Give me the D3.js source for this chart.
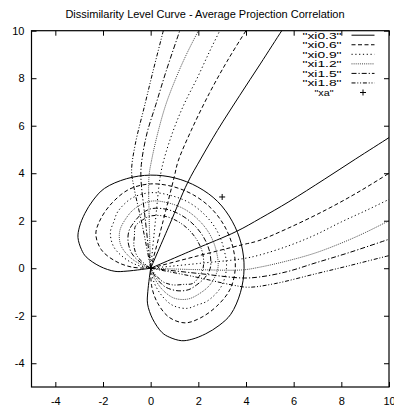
<!DOCTYPE html>
<html lang="en">
<head>
<meta charset="utf-8">
<title>Dissimilarity Level Curve</title>
<script src="https://cdn.jsdelivr.net/npm/d3@7"></script>
<style>
  body { margin: 0; background: #fff; }
  text { font-family: "Liberation Sans", Arial, sans-serif; fill: #000; }
</style>
</head>
<body>
<script>
// tick labels
var xTicks = [-4, -2, 0, 2, 4, 6, 8, 10];
var yTicks = [-4, -2, 0, 2, 4, 6, 8, 10];

var seriesNames = ['"xi0.3"', '"xi0.6"', '"xi0.9"', '"xi1.2"', '"xi1.5"', '"xi1.8"'];

// closed level loops through the origin
var loop03 = [[0,0],[-0.99,-0.12],[-1.5,-0.13],[-2.13,0.08],[-2.71,0.48],[-2.9,0.78],[-3.05,1.29],[-2.99,1.73],[-2.76,2.31],[-2.41,2.87],[-1.94,3.36],[-1.01,3.77],[0,3.92],[1.02,3.8],[1.98,3.42],[2.81,2.81],[3.42,1.98],[3.8,1.02],[3.92,0],[3.77,-1.01],[3.36,-1.94],[2.87,-2.41],[2.31,-2.76],[1.73,-2.99],[1.29,-3.05],[0.78,-2.9],[0.48,-2.71],[0.08,-2.13],[-0.13,-1.5],[-0.12,-0.99],[0,0]];
var loop06 = [[0,0],[-0.8,0.05],[-1.48,0.3],[-2.07,0.78],[-2.3,1.44],[-2.09,2.09],[-1.6,2.77],[-0.89,3.33],[0,3.55],[0.92,3.44],[1.79,3.09],[2.53,2.53],[3.09,1.79],[3.44,0.92],[3.55,0],[3.33,-0.89],[2.77,-1.6],[2.09,-2.09],[1.44,-2.3],[0.78,-2.07],[0.3,-1.48],[0.05,-0.8],[0,0]];
var loop09 = [[0,0],[-0.59,0.14],[-1.13,0.45],[-1.56,0.92],[-1.69,1.52],[-1.54,1.97],[-1.38,2.38],[-0.79,2.95],[0,3.18],[0.82,3.07],[1.6,2.77],[2.26,2.26],[2.77,1.6],[3.07,0.82],[3.18,0],[2.95,-0.79],[2.38,-1.38],[1.97,-1.54],[1.52,-1.69],[0.92,-1.56],[0.45,-1.13],[0.14,-0.59],[0,0]];
var loop12 = [[0,0],[-0.47,0.19],[-0.93,0.52],[-1.26,0.99],[-1.3,1.55],[-1.08,2.03],[-0.67,2.51],[0,2.82],[0.74,2.75],[1.43,2.48],[2.02,2.02],[2.48,1.43],[2.75,0.74],[2.82,0],[2.51,-0.67],[2.03,-1.08],[1.55,-1.3],[0.99,-1.26],[0.52,-0.93],[0.19,-0.47],[0,0]];
var loop15 = [[0,0],[-0.43,0.25],[-0.79,0.62],[-0.95,1.15],[-0.9,1.6],[-0.7,1.93],[-0.4,2.27],[0,2.5],[0.67,2.48],[1.29,2.23],[1.82,1.82],[2.23,1.29],[2.48,0.67],[2.5,0],[2.27,-0.4],[1.93,-0.7],[1.6,-0.9],[1.15,-0.95],[0.62,-0.79],[0.25,-0.43],[0,0]];
var loop18 = [[0,0],[-0.28,0.21],[-0.56,0.5],[-0.7,0.92],[-0.68,1.39],[-0.64,1.77],[-0.36,2.02],[0,2.2],[0.59,2.19],[1.14,1.97],[1.61,1.61],[1.97,1.14],[2.19,0.59],[2.2,0],[2.02,-0.36],[1.77,-0.64],[1.39,-0.68],[0.92,-0.7],[0.5,-0.56],[0.21,-0.28],[0,0]];

// open branches leaving the origin, upward
var up03 = [[0,0],[0.8,1.85],[1.55,3.6],[2.1,4.6],[2.8,5.8],[3.74,7.28],[4.6,8.6],[5.5,10],[5.7,10.3]];
var up06 = [[0,0],[0.5,1.9],[0.99,3.85],[1.15,4.5],[1.7,5.8],[2.46,7.36],[3.2,8.7],[4.0,10],[4.2,10.3]];
var up09 = [[0,0],[0.2,2],[0.4,3.85],[0.55,4.55],[0.95,5.8],[1.4,6.9],[1.95,8.0],[2.46,9.1],[2.9,10],[3.05,10.3]];
var up12 = [[0,0],[-0.06,2],[-0.07,3.85],[0.04,4.55],[0.3,5.7],[0.64,6.9],[1.1,8.1],[1.5,9.0],[2.0,10],[2.15,10.3]];
var up15 = [[0,0],[-0.22,2],[-0.41,3.85],[-0.37,4.55],[-0.15,5.7],[0.22,6.9],[0.65,8.3],[1.22,10],[1.32,10.3]];
var up18 = [[0,0],[-0.35,1.8],[-0.7,3.4],[-0.8,4.1],[-0.65,5.2],[-0.24,6.9],[0.1,8.3],[0.53,10],[0.6,10.3]];

// open branches leaving the origin, to the right
var right03 = [[0,0],[1.85,0.8],[3.6,1.55],[4.6,2.1],[5.8,2.8],[7.28,3.74],[8.6,4.6],[10,5.5],[10.3,5.7]];
var right06 = [[0,0],[1.9,0.5],[3.85,0.99],[4.5,1.15],[5.8,1.7],[7.36,2.46],[8.7,3.2],[10,4.0],[10.3,4.2]];
var right09 = [[0,0],[2,0.2],[3.85,0.4],[4.55,0.55],[5.8,0.95],[6.9,1.4],[8.0,1.95],[9.1,2.46],[10,2.9],[10.3,3.05]];
var right12 = [[0,0],[2,-0.06],[3.85,-0.07],[4.55,0.04],[5.7,0.3],[6.9,0.64],[8.1,1.1],[9.0,1.5],[10,2.0],[10.3,2.15]];
var right15 = [[0,0],[2,-0.22],[3.85,-0.41],[4.55,-0.37],[5.7,-0.15],[6.9,0.22],[8.3,0.65],[10,1.22],[10.3,1.32]];
var right18 = [[0,0],[1.8,-0.35],[3.4,-0.7],[4.1,-0.8],[5.2,-0.65],[6.9,-0.24],[8.3,0.1],[10,0.53],[10.3,0.6]];

var xaPoint = [[3, 3]];

var loops = [loop03, loop06, loop09, loop12, loop15, loop18];
var ups = [up03, up06, up09, up12, up15, up18];
var rights = [right03, right06, right09, right12, right15, right18];
var dashes = ["none", "4,2.5", "1.2,2.6", "1,1.1", "5,2,1.2,2", "4,1.8,1,1.8,1,1.8"];
var strokes = ["#000", "#000", "#000", "#444", "#000", "#000"];

var width = 394, height = 407;
var plotLeft = 31.5, plotRight = 389, plotTop = 30.7, plotBottom = 387;

var svg = d3.select("body").append("svg")
    .attr("width", width)
    .attr("height", height);

var x = d3.scaleLinear().domain([-5, 10]).range([plotLeft, plotRight]);
var y = d3.scaleLinear().domain([-5, 10]).range([plotBottom, plotTop]);

svg.append("defs").append("clipPath").attr("id", "plot")
  .append("rect")
    .attr("x", plotLeft).attr("y", plotTop)
    .attr("width", plotRight - plotLeft).attr("height", plotBottom - plotTop);

// title
svg.append("text")
    .attr("x", 205)
    .attr("y", 17.5)
    .attr("text-anchor", "middle")
    .style("font-size", "11px")
    .text("Dissimilarity Level Curve - Average Projection Correlation");

// axes, ticks pointing inward like gnuplot
var plain = function(d) { return String(d); };
svg.append("g")
    .attr("transform", "translate(0," + plotBottom + ")")
    .call(d3.axisBottom(x).tickValues(xTicks).tickSizeInner(-5).tickSizeOuter(0).tickPadding(10).tickFormat(plain));
svg.append("g")
    .attr("transform", "translate(" + plotLeft + ",0)")
    .call(d3.axisLeft(y).tickValues(yTicks).tickSizeInner(-5).tickSizeOuter(0).tickPadding(7).tickFormat(plain));
svg.append("g")
    .attr("transform", "translate(0," + plotTop + ")")
    .call(d3.axisTop(x).tickValues(xTicks).tickSizeInner(-5).tickSizeOuter(0).tickFormat(""));
svg.append("g")
    .attr("transform", "translate(" + plotRight + ",0)")
    .call(d3.axisRight(y).tickValues(yTicks).tickSizeInner(-5).tickSizeOuter(0).tickFormat(""));

svg.selectAll(".domain").remove();
svg.selectAll(".tick line").attr("stroke", "#000");
svg.selectAll(".tick text")
    .style("font-family", '"Liberation Sans", Arial, sans-serif')
    .style("font-size", "11px")
    .attr("fill", "#000");

var line = d3.line()
    .x(function(d) { return x(d[0]); })
    .y(function(d) { return y(d[1]); })
    .curve(d3.curveCatmullRom.alpha(0.5));

var curves = svg.append("g").attr("clip-path", "url(#plot)");

for (var i = 0; i < seriesNames.length; i++) {
  [loops[i], ups[i], rights[i]].forEach(function(pts) {
    curves.append("path")
        .attr("d", line(pts))
        .attr("fill", "none")
        .attr("stroke", strokes[i])
        .attr("stroke-width", 1)
        .attr("stroke-dasharray", dashes[i]);
  });
}

// xa marker
curves.selectAll(".xa")
    .data(xaPoint)
    .enter().append("path")
    .attr("class", "xa")
    .attr("d", function(d) {
      var px = x(d[0]), py = y(d[1]);
      return "M" + (px - 3) + "," + py + "H" + (px + 3) + "M" + px + "," + (py - 3) + "V" + (py + 3);
    })
    .attr("stroke", "#000");

// border
svg.append("rect")
    .attr("x", plotLeft).attr("y", plotTop)
    .attr("width", plotRight - plotLeft).attr("height", plotBottom - plotTop)
    .attr("fill", "none")
    .attr("stroke", "#000")
    .attr("stroke-width", 1.2);

// legend: gnuplot's key text is short and wide, so stretch it
var legend = svg.append("g");
var rowY = function(i) { return 35.2 + i * 9.55; };
seriesNames.forEach(function(name, i) {
  legend.append("text")
      .attr("x", 302.5)
      .attr("y", rowY(i))
      .attr("dy", "0.35em")
      .attr("textLength", 39)
      .attr("lengthAdjust", "spacingAndGlyphs")
      .style("font-size", "9.6px")
      .text(name);
  legend.append("line")
      .attr("x1", 351.5).attr("x2", 374.5)
      .attr("y1", rowY(i)).attr("y2", rowY(i))
      .attr("stroke", strokes[i])
      .attr("stroke-dasharray", dashes[i]);
});
legend.append("text")
    .attr("x", 314.5)
    .attr("y", rowY(6))
    .attr("dy", "0.35em")
    .attr("textLength", 19)
    .attr("lengthAdjust", "spacingAndGlyphs")
    .style("font-size", "9.6px")
    .text('"xa"');
legend.append("path")
    .attr("d", "M" + 360 + "," + rowY(6) + "H366M363," + (rowY(6) - 3) + "V" + (rowY(6) + 3))
    .attr("stroke", "#000");
</script>
</body>
</html>
